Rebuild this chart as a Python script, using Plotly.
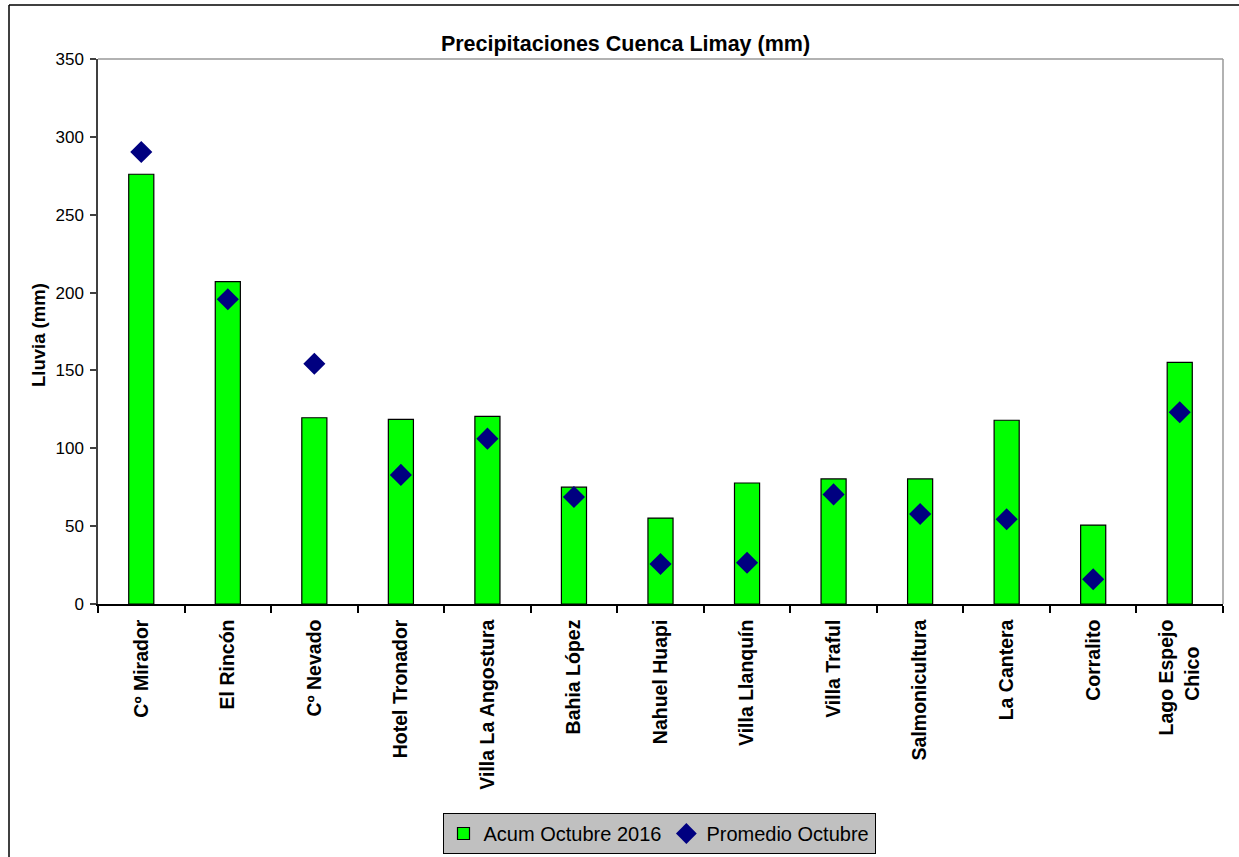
import plotly.graph_objects as go

NB = "\u00a0"
categories = ["Cº Mirador", "El Rincón", "Cº Nevado", "Hotel Tronador", "Villa La Angostura",
              "Bahia López", "Nahuel Huapi", "Villa Llanquín", "Villa Traful", "Salmonicultura",
              "La Cantera", "Corralito", "Lago Espejo<br>Chico" + NB * 5]
acum_oct_2016 = [276, 207, 119.6, 118.6, 120.5, 75, 55.2, 77.7, 80.3, 80.3, 118, 50.7, 155.2]
promedio_oct = [290.3, 195.7, 154.3, 82.9, 106.2, 68.7, 25.7, 26.5, 70.4, 57.8, 54.4, 15.9, 123.1]
y_ticks = [0, 50, 100, 150, 200, 250, 300, 350]

W, H = 1239, 857
L, R, T, B = 98, 1223, 59, 604
pw, ph = R - L, B - T

def px_x(p):
    return (p - L) / pw

def px_y(p):
    return (B - p) / ph

FONT = "Liberation Sans, Arial, sans-serif"

fig = go.Figure()
fig.add_trace(go.Bar(
    x=categories, y=acum_oct_2016, name="Acum Octubre 2016",
    marker=dict(color="#00FF00", line=dict(color="black", width=1.2)),
    width=0.29,
))
fig.add_trace(go.Scatter(
    x=categories, y=promedio_oct, name="Promedio Octubre", mode="markers",
    marker=dict(symbol="diamond", color="#000080", size=17, line=dict(width=0)),
))

fig.update_layout(
    width=W, height=H,
    margin=dict(l=L, r=W - R, t=T, b=H - B, autoexpand=False),
    paper_bgcolor="white", plot_bgcolor="white",
    font=dict(family=FONT, color="black"),
    showlegend=True,
    title=dict(text="<b>Precipitaciones Cuenca Limay (mm)</b>", font=dict(size=21.5, family=FONT),
               x=px_x(625.5), xref="paper", xanchor="center",
               y=1 - 43 / H, yref="container", yanchor="middle"),
    legend=dict(orientation="h", x=px_x(659), xanchor="center", y=px_y(813), yanchor="top",
                bgcolor="#C0C0C0", bordercolor="black", borderwidth=1,
                font=dict(size=20, family=FONT), itemwidth=30,
                tracegroupgap=0),
    bargap=0.7,
)

fig.update_yaxes(
    range=[0, 350], tickvals=y_ticks, ticktext=[str(v) for v in y_ticks],
    showgrid=False, zeroline=False,
    showline=True, linecolor="#404040", linewidth=1.5,
    ticks="outside", ticklen=6, tickcolor="#404040", tickwidth=1.5,
    tickfont=dict(size=17, family=FONT), ticklabelstandoff=3,
)
fig.update_xaxes(
    type="category", range=[-0.5, len(categories) - 0.5], tickangle=-90, tickson="boundaries",
    showgrid=False, showline=True, linecolor="black", linewidth=1.5,
    ticks="outside", ticklen=7, tickcolor="black", tickwidth=1.5,
    tickfont=dict(size=19.5, family=FONT, weight="bold"), automargin=False,
    ticklabelstandoff=6,
)

# plot-area border (top and right, gray)
fig.add_shape(type="line", xref="paper", yref="paper", x0=0, x1=1, y0=1, y1=1,
              line=dict(color="#999999", width=1.5))
fig.add_shape(type="line", xref="paper", yref="paper", x0=1, x1=1, y0=0, y1=1,
              line=dict(color="#999999", width=1.5))
# chart outer border (left and top, black)
fig.add_shape(type="line", xref="paper", yref="paper", x0=px_x(9), x1=px_x(9),
              y0=px_y(5), y1=px_y(H + 20), line=dict(color="black", width=1.5))
fig.add_shape(type="line", xref="paper", yref="paper", x0=px_x(9), x1=px_x(W + 20),
              y0=px_y(5), y1=px_y(5), line=dict(color="black", width=1.5))

fig.add_annotation(text="<b>Lluvia (mm)</b>", textangle=-90, xref="paper", yref="paper",
                   x=px_x(38), y=px_y(335), xanchor="center", yanchor="middle",
                   showarrow=False, font=dict(size=18.5, family=FONT))

fig.write_html("out.html", config={"displayModeBar": False},
               post_script="document.body.style.margin='0';document.body.style.overflow='hidden';")
